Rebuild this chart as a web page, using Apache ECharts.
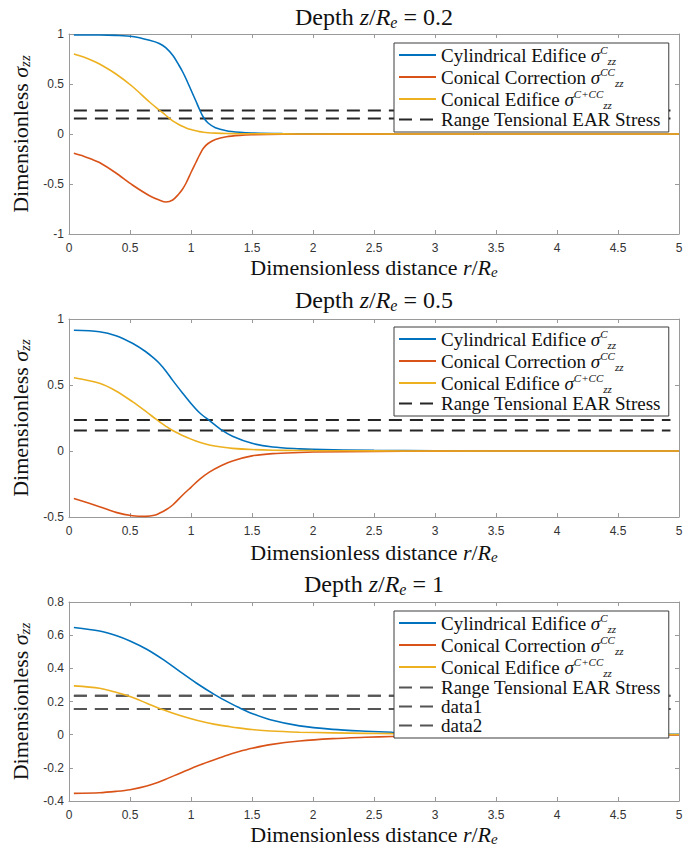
<!DOCTYPE html>
<html><head><meta charset="utf-8">
<script src="https://cdn.jsdelivr.net/npm/echarts@6/dist/echarts.min.js"></script>
<style>html,body{margin:0;padding:0;background:#fff}#c{width:698px;height:847px}</style>
</head><body><div id="c"></div>
<script>
// ---------- DATA ----------
const DEPTHS = ['0.2', '0.5', '1'];

// Panel 1: depth z/Re = 0.2
const R1   = [0.04, 0.12, 0.18, 0.25, 0.385, 0.52, 0.66, 0.74, 0.795, 0.85, 0.9, 0.93, 0.96, 1.0, 1.04, 1.07, 1.1, 1.14, 1.2, 1.29, 1.4, 1.5, 1.75, 2.0, 2.5, 3.0, 4.0, 5.0];
const CYL1 = [0.99, 0.99, 0.99, 0.99, 0.986, 0.975, 0.937, 0.905, 0.862, 0.787, 0.69, 0.625, 0.55, 0.44, 0.33, 0.245, 0.17, 0.11, 0.063, 0.033, 0.017, 0.01, 0.004, 0.002, 0.001, 0, 0, 0];
const COR1 = [-0.193, -0.222, -0.25, -0.285, -0.39, -0.51, -0.617, -0.66, -0.68, -0.66, -0.60, -0.553, -0.49, -0.385, -0.285, -0.21, -0.145, -0.095, -0.055, -0.028, -0.014, -0.008, -0.003, -0.002, -0.001, 0, 0, 0];
const CON1 = [0.80, 0.77, 0.74, 0.70, 0.60, 0.475, 0.32, 0.24, 0.185, 0.132, 0.095, 0.077, 0.061, 0.044, 0.032, 0.024, 0.018, 0.013, 0.009, 0.005, 0.003, 0.002, 0.001, 0, 0, 0, 0, 0];

// Panel 2: depth z/Re = 0.5
const R2   = [0.04, 0.25, 0.385, 0.52, 0.63, 0.7, 0.74, 0.795, 0.85, 0.93, 1.0, 1.07, 1.15, 1.25, 1.34, 1.5, 1.67, 1.89, 2.0, 2.5, 3.0, 4.0, 5.0];
const CYL2 = [0.915, 0.904, 0.874, 0.816, 0.752, 0.70, 0.665, 0.605, 0.535, 0.44, 0.36, 0.29, 0.232, 0.16, 0.112, 0.058, 0.03, 0.016, 0.012, 0.005, 0.002, 0.001, 0];
const COR2 = [-0.359, -0.422, -0.465, -0.49, -0.495, -0.487, -0.472, -0.445, -0.409, -0.335, -0.275, -0.215, -0.16, -0.11, -0.075, -0.037, -0.02, -0.011, -0.008, -0.003, -0.001, 0, 0];
const CON2 = [0.555, 0.513, 0.455, 0.374, 0.30, 0.25, 0.222, 0.187, 0.155, 0.118, 0.09, 0.066, 0.046, 0.03, 0.02, 0.011, 0.006, 0.004, 0.003, 0.001, 0, 0, 0];

// Panel 3: depth z/Re = 1
const R3   = [0.04, 0.25, 0.385, 0.5, 0.637, 0.773, 0.91, 1.046, 1.197, 1.32, 1.388, 1.5, 1.65, 1.89, 2.16, 2.43, 2.65, 3.0, 3.5, 4.0, 4.5, 5.0];
const CYL3 = [0.646, 0.625, 0.598, 0.565, 0.515, 0.452, 0.38, 0.31, 0.24, 0.19, 0.165, 0.128, 0.09, 0.053, 0.032, 0.021, 0.015, 0.01, 0.006, 0.004, 0.003, 0.002];
const COR3 = [-0.354, -0.35, -0.342, -0.332, -0.31, -0.275, -0.232, -0.19, -0.15, -0.118, -0.103, -0.082, -0.06, -0.038, -0.024, -0.016, -0.011, -0.007, -0.004, -0.003, -0.002, -0.001];
const CON3 = [0.294, 0.28, 0.256, 0.23, 0.19, 0.15, 0.115, 0.087, 0.062, 0.048, 0.041, 0.031, 0.022, 0.015, 0.011, 0.008, 0.006, 0.004, 0.003, 0.002, 0.001, 0.001];

// Range of tensional EAR stress (two dashed levels) and their r-extent
const EAR_LEVELS = [0.235, 0.155];
const EAR_R = [0.04, 4.93];

// Axis ticks: [min, max, interval]
const X_TICKS = [0, 5, 0.5];
const Y_TICKS = [[-1, 1, 0.5], [-0.5, 1, 0.5], [-0.4, 0.8, 0.2]];

// ---------- STYLE ----------
const SERIF = "'Liberation Serif','DejaVu Serif',serif";
const SANS = "'Liberation Sans',Arial,sans-serif";
const C_BLUE = '#0072BD', C_ORANGE = '#D95319', C_YELLOW = '#EDB120';
const DASH_COLORS = ['#262626', '#262626', '#555555'];
const AXIS_COLOR = '#9a9a9a';
const GRIDS = [
  {left: 69, top: 34, width: 610, height: 200},
  {left: 69, top: 319, width: 610, height: 198},
  {left: 69, top: 602, width: 610, height: 200}
];
const TITLE_Y = [17, 300, 584];
const LEGEND_TOP = [43, 327, 611];
const XNAME_GAP = [21, 23, 21];

const zip = (R, V) => R.map((r, i) => [r, V[i]]);
const mk = (size, lh, extra) => Object.assign({fontFamily: SERIF, fontSize: size, lineHeight: lh, fontWeight: 'normal', color: '#111'}, extra || {});
const nameRich = {
  n: mk(22, 24),
  i: mk(22, 24, {fontStyle: 'italic'}),
  s: mk(15, 10, {fontStyle: 'italic', verticalAlign: 'bottom'})
};
const titleRich = {
  n: mk(24, 26),
  i: mk(24, 26, {fontStyle: 'italic'}),
  s: mk(16, 11, {fontStyle: 'italic', verticalAlign: 'bottom'})
};
const legRich = {
  t: mk(19, 22),
  g: mk(19, 22, {fontStyle: 'italic'}),
  p: mk(11, 13, {fontStyle: 'italic', verticalAlign: 'top'}),
  b: mk(11, 13, {fontStyle: 'italic', verticalAlign: 'bottom'})
};
const LABELS = {
  cyl: '{t|Cylindrical Edifice }{g|σ}{p|C}{b|zz}',
  cor: '{t|Conical Correction }{g|σ}{p|CC}{b|zz}',
  con: '{t|Conical Edifice }{g|σ}{p|C+CC}{b|zz}',
  range: '{t|Range Tensional EAR Stress}',
  data1: '{t|data1}',
  data2: '{t|data2}'
};

const titles = [], grids = [], xAxes = [], yAxes = [], legends = [], series = [];
const panels = [[R1, CYL1, COR1, CON1], [R2, CYL2, COR2, CON2], [R3, CYL3, COR3, CON3]];

panels.forEach((p, k) => {
  const [R, CYL, COR, CON] = p;
  const g = GRIDS[k];
  grids.push(Object.assign({containLabel: false}, g));
  titles.push({
    text: '{n|Depth }{i|z}{n|/}{i|R}{s|e}{n| = ' + DEPTHS[k] + '}',
    left: g.left + g.width / 2, top: TITLE_Y[k], padding: 0,
    textAlign: 'center', textVerticalAlign: 'middle',
    textStyle: {fontWeight: 'normal', rich: titleRich}
  });
  const axLine = {show: true, onZero: false, lineStyle: {color: AXIS_COLOR, width: 1}};
  const axTick = {show: true, inside: true, length: 4, lineStyle: {color: AXIS_COLOR}};
  xAxes.push({
    gridIndex: k, type: 'value', position: 'bottom',
    min: X_TICKS[0], max: X_TICKS[1], interval: X_TICKS[2],
    axisLine: axLine, axisTick: axTick, splitLine: {show: false},
    axisLabel: {fontFamily: SANS, fontSize: 12, color: '#333', margin: 8},
    name: '{n|Dimensionless distance }{i|r}{n|/}{i|R}{s|e}',
    nameLocation: 'middle', nameGap: XNAME_GAP[k],
    nameTextStyle: {rich: nameRich}
  });
  xAxes.push({
    gridIndex: k, type: 'value', position: 'top',
    min: X_TICKS[0], max: X_TICKS[1], interval: X_TICKS[2],
    axisLine: axLine, axisTick: axTick, splitLine: {show: false},
    axisLabel: {show: false}
  });
  const yt = Y_TICKS[k];
  yAxes.push({
    gridIndex: k, type: 'value', position: 'left',
    min: yt[0], max: yt[1], interval: yt[2],
    axisLine: axLine, axisTick: axTick, splitLine: {show: false},
    axisLabel: {fontFamily: SANS, fontSize: 12, color: '#333', margin: 5},
    name: '{n|Dimensionless }{i|σ}{s|zz}',
    nameLocation: 'middle', nameGap: 30,
    nameTextStyle: {rich: nameRich}
  });
  yAxes.push({
    gridIndex: k, type: 'value', position: 'right',
    min: yt[0], max: yt[1], interval: yt[2],
    axisLine: axLine, axisTick: axTick, splitLine: {show: false},
    axisLabel: {show: false}
  });
  const xi = 2 * k, yi = 2 * k;
  const base = {type: 'line', xAxisIndex: xi, yAxisIndex: yi, symbol: 'none', showSymbol: false,
                smooth: 0.3, z: 3};
  series.push(Object.assign({}, base, {name: 'cyl' + k, data: zip(R, CYL), lineStyle: {color: C_BLUE, width: 1.6}, itemStyle: {color: C_BLUE}}));
  series.push(Object.assign({}, base, {name: 'cor' + k, data: zip(R, COR), lineStyle: {color: C_ORANGE, width: 1.6}, itemStyle: {color: C_ORANGE}}));
  series.push(Object.assign({}, base, {name: 'con' + k, data: zip(R, CON), lineStyle: {color: C_YELLOW, width: 1.6}, itemStyle: {color: C_YELLOW}}));
  const dash = {color: DASH_COLORS[k], width: 2, type: [13, 8]};
  const rangeData = [[EAR_R[0], EAR_LEVELS[0]], [EAR_R[1], EAR_LEVELS[0]], [EAR_R[1], '-'],
                     [EAR_R[0], EAR_LEVELS[1]], [EAR_R[1], EAR_LEVELS[1]]];
  const dbase = {type: 'line', xAxisIndex: xi, yAxisIndex: yi, symbol: 'none', showSymbol: false,
                 connectNulls: false, lineStyle: dash, itemStyle: {color: DASH_COLORS[k]}, z: 2};
  series.push(Object.assign({}, dbase, {name: 'range' + k, data: rangeData}));
  const names = ['cyl' + k, 'cor' + k, 'con' + k, 'range' + k];
  if (k === 2) {
    series.push(Object.assign({}, dbase, {name: 'data1', data: [[EAR_R[0], EAR_LEVELS[0]], [EAR_R[1], EAR_LEVELS[0]]]}));
    series.push(Object.assign({}, dbase, {name: 'data2', data: [[EAR_R[0], EAR_LEVELS[1]], [EAR_R[1], EAR_LEVELS[1]]]}));
    names.push('data1', 'data2');
  }
  legends.push({
    data: names, orient: 'vertical', left: 394, top: LEGEND_TOP[k],
    itemWidth: 37, itemHeight: 14, itemGap: 0,
    padding: [1, 8, 3, 4],
    backgroundColor: '#fff', borderColor: '#3c3c3c', borderWidth: 1,
    itemStyle: {opacity: 0, borderWidth: 0},
    lineStyle: {width: 2},
    formatter: (name) => LABELS[name.replace(/\d$/, '')] || LABELS[name],
    textStyle: {rich: legRich},
    z: 10
  });
});

const chart = echarts.init(document.getElementById('c'), null, {renderer: 'svg'});
chart.setOption({
  animation: false,
  backgroundColor: '#fff',
  title: titles,
  grid: grids,
  xAxis: xAxes,
  yAxis: yAxes,
  legend: legends,
  series: series
});
</script></body></html>
